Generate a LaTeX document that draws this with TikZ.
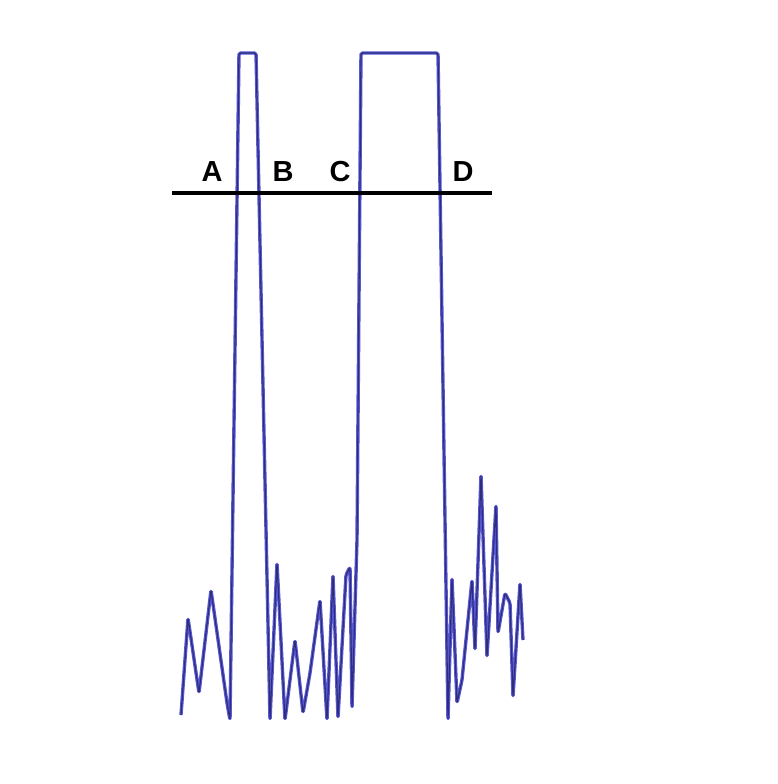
\documentclass[tikz,border=0pt]{standalone}
\usepackage{fontspec}
\setsansfont{Liberation Sans}
\definecolor{sigblue}{RGB}{88,88,215}
\definecolor{sigcore}{RGB}{45,45,120}
\begin{document}
\begin{tikzpicture}[x=1pt, y=-1pt,
  signal/.style={line width=3.4pt, color=sigblue, line join=round, rounded corners=1.5pt,
    postaction={draw=sigcore, line width=1.2pt}},
  lbl/.style={font=\sffamily\bfseries\fontsize{29}{30}\selectfont}]
\useasboundingbox (0,0) rectangle (777,784);
\draw [signal] (181,715) -- (188,618) -- (199,693) -- (211,590) -- (227,703) -- (230,720)
  -- (239,53) -- (256,53) -- (270,720)
  -- (277,563) -- (285,720) -- (295,640) -- (303,713) -- (310,673) -- (320,600)
  -- (327,720) -- (333,575) -- (338,718) -- (346,575) -- (350,567) -- (352,708)
  -- (357,540) -- (361,53) -- (438,53) -- (448,720)
  -- (452,578) -- (457,703) -- (462,680) -- (472,580) -- (475,650) -- (481,475)
  -- (487,657) -- (496,505) -- (498,633) -- (505,593) -- (510,603) -- (513,697)
  -- (520,583) -- (523,640);
\draw [line width=3.5pt] (172,193) -- (492,193);
\node [lbl] (a) at (212,172) {A};
\node [lbl] (b) at (283,172) {B};
\node [lbl] (c) at (340,172) {C};
\node [lbl] (d) at (463,172) {D};
\end{tikzpicture}
\end{document}
